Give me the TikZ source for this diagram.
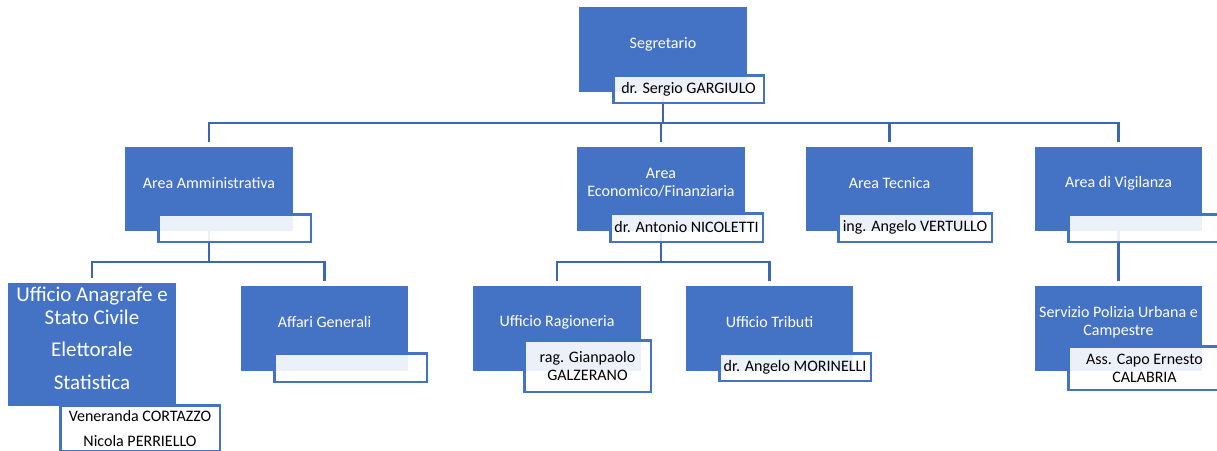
\documentclass[tikz,border=0pt]{standalone}
\usepackage{fontspec}
\setmainfont{Carlito}
\pgfdeclarelayer{bg}
\pgfsetlayers{bg,main}
\definecolor{obl}{HTML}{4472C4}
\definecolor{cnn}{HTML}{3E66AE}
\tikzset{
  bluebox/.style={fill=obl, draw=none, inner sep=0pt, outer sep=0pt},
  namebox/.style={draw=obl, line width=2.5pt, fill=white, fill opacity=0.9, text opacity=1,
    inner sep=0pt, outer sep=0pt, align=center, text=black, font=\fontsize{16}{18}\selectfont},
  btext/.style={text=white, align=center, inner sep=0pt, font=\fontsize{16}{18}\selectfont},
  conn/.style={draw=cnn, line width=2.5pt, line join=miter},
}
\newcommand\BB[5]{\node[bluebox, minimum width={(#4-#2)*1pt}, minimum height={(#5-#3)*1pt}] (#1) at ({(#2+#4)/2},{(#3+#5)/2}) {};}
\newcommand\NB[6]{\node[namebox, minimum width={(#4-#2-2.5)*1pt}, minimum height={(#5-#3-2.5)*1pt}] (#1) at ({(#2+#4)/2},{(#3+#5)/2}) {#6};}
\begin{document}
\begin{tikzpicture}[x=1pt,y=-1pt]
\useasboundingbox (0,0) rectangle (1217,450);
% blue boxes
\BB{seg}{579}{7}{747}{92}
\BB{amm}{125}{147}{293}{231}
\BB{eco}{577}{147}{745}{231}
\BB{tec}{806}{147}{973}{231}
\BB{vig}{1035}{147}{1202}{231}
\BB{ana}{8}{283}{176}{406}
\BB{aff}{241}{286}{408}{371}
\BB{rag}{473}{286}{641}{371}
\BB{tri}{686}{286}{853}{371}
\BB{pol}{1035}{286}{1202}{371}
% texts in blue boxes
\node[btext] (segT) at (663,44) {Segretario};
\node[btext] (ammT) at (209,183) {Area Amministrativa};
\node[btext] (ecoT) at (661,183) {Area\\Economico/Finanziaria};
\node[btext] (tecT) at (889.5,183) {Area Tecnica};
\node[btext] (vigT) at (1118.5,183) {Area di Vigilanza};
\node[btext, font=\fontsize{21}{23}\selectfont] (anaT1) at (92,305.5) {Ufficio Anagrafe e\\Stato Civile};
\node[btext, font=\fontsize{21}{23}\selectfont] (anaT2) at (92,349) {Elettorale};
\node[btext, font=\fontsize{21}{23}\selectfont] (anaT3) at (92,382) {Statistica};
\node[btext] (affT) at (324.5,322) {Affari Generali};
\node[btext] (ragT) at (557,322) {Ufficio Ragioneria};
\node[btext] (triT) at (769.5,322) {Ufficio Tributi};
\node[btext] (polT) at (1118.5,322) {Servizio Polizia Urbana e\\Campestre};
% name boxes
\NB{segN}{612}{74}{765}{104}{dr. Sergio GARGIULO}
\NB{ammN}{157}{213}{312}{243}{}
\NB{ecoN}{609}{212}{764}{243}{dr. Antonio NICOLETTI}
\NB{tecN}{837}{212}{993}{243}{ing. Angelo VERTULLO}
\NB{vigN}{1067}{213}{1222}{243}{}
\NB{anaN}{59}{404}{221}{452}{Veneranda CORTAZZO\\[7pt]Nicola PERRIELLO}
\NB{affN}{273}{352}{428}{383}{}
\NB{ragN}{523}{339}{652}{393}{rag. Gianpaolo\\GALZERANO}
\NB{triN}{718}{352}{872}{382}{dr. Angelo MORINELLI}
\NB{polN}{1067}{345}{1222}{391}{Ass. Capo Ernesto\\CALABRIA}
% connectors
\begin{pgfonlayer}{bg}
\coordinate (bus) at (0,123);
\coordinate (sub) at (0,262);
\draw[conn] (seg.south) -- (seg.south |- bus);
\draw[conn] ([yshift=5pt]amm.north) -- (amm.north |- bus) -- (vig.north |- bus) -- ([yshift=5pt]vig.north);
\draw[conn] (eco.north |- bus) -- ([yshift=5pt]eco.north);
\draw[conn] (tec.north |- bus) -- ([yshift=5pt]tec.north);
\draw[conn] (amm.south) -- (amm.south |- sub);
\draw[conn] ([yshift=5pt]ana.north) -- (ana.north |- sub) -- (aff.north |- sub) -- ([yshift=5pt]aff.north);
\draw[conn] (eco.south) -- (eco.south |- sub);
\draw[conn] ([yshift=5pt]rag.north) -- (rag.north |- sub) -- (tri.north |- sub) -- ([yshift=5pt]tri.north);
\draw[conn] (vig.south) -- ([yshift=5pt]pol.north);
\end{pgfonlayer}
\end{tikzpicture}
\end{document}
